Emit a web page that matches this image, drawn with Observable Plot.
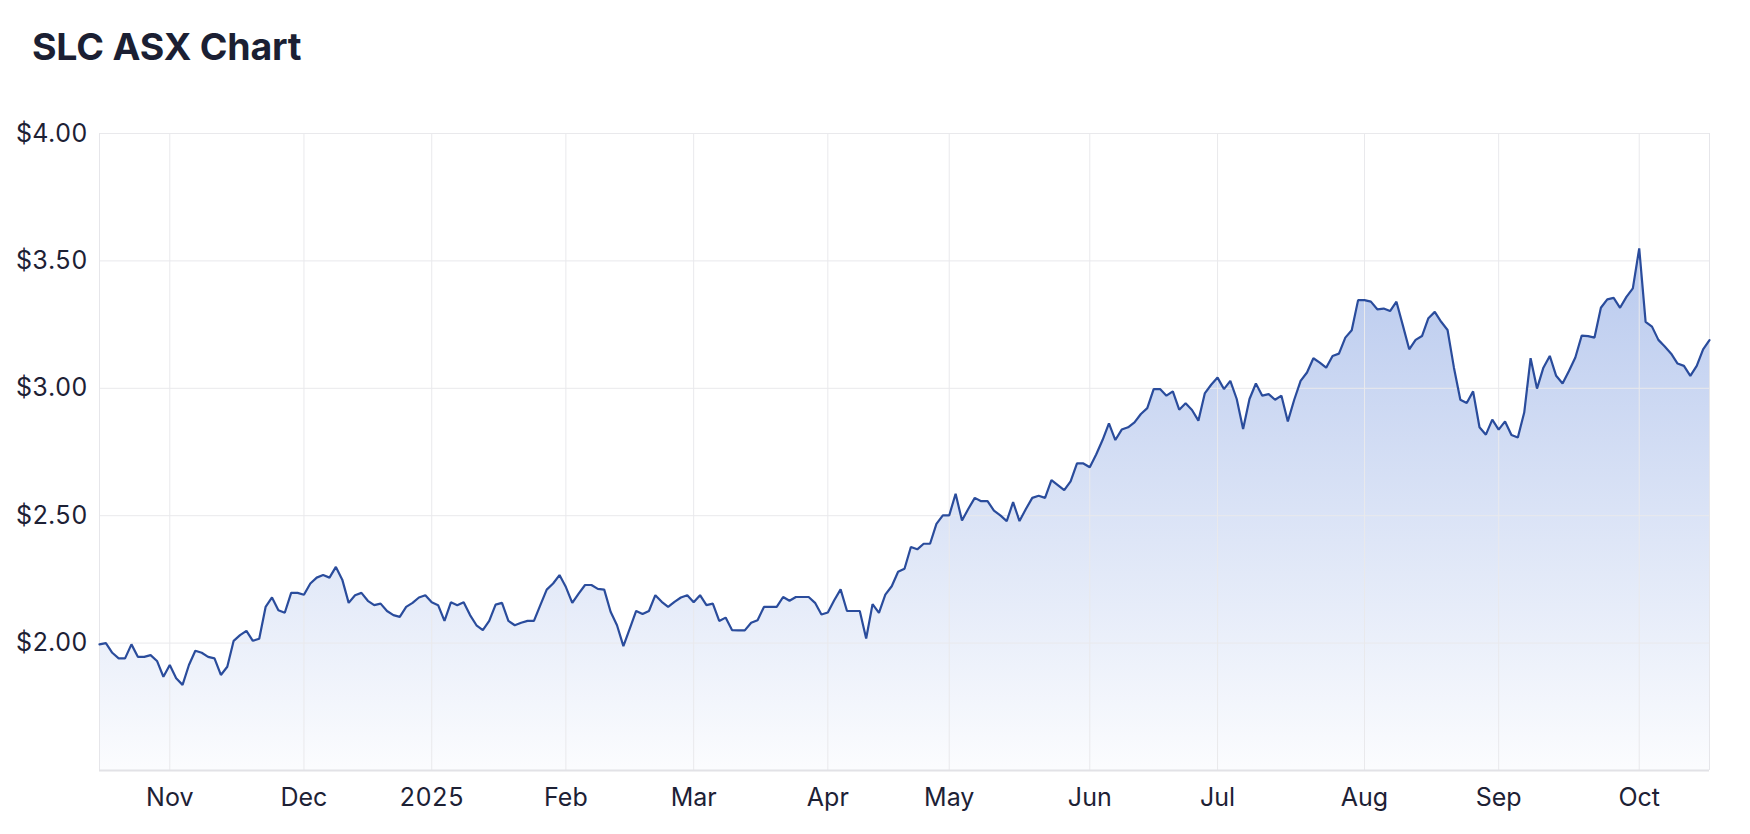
<!DOCTYPE html>
<html>
<head>
<meta charset="utf-8">
<script src="https://cdn.jsdelivr.net/npm/d3@7"></script>
<script src="https://cdn.jsdelivr.net/npm/@observablehq/plot@0.6"></script>
<style>
  html, body { margin: 0; padding: 0; background: #ffffff; }
  #title {
    box-sizing: border-box;
    margin: 0;
    padding: 28px 0 0 32px;
    height: 100px;
    font: 700 37.5px/38px Inter, "Noto Sans", sans-serif;
    color: #1b1f33;
    letter-spacing: -0.2px;
  }
  #chart svg { display: block; }
</style>
</head>
<body>
<div id="title">SLC ASX Chart</div>
<div id="chart"></div>
<script>
// ---- Data: daily closing prices (A$), one array per month (trading days only) ----
const oct2024 = [1.995, 2.00, 1.962, 1.94, 1.94, 1.995, 1.946, 1.946, 1.953, 1.93, 1.868];
const nov2024 = [1.914, 1.862, 1.836, 1.914, 1.97, 1.962, 1.946, 1.94, 1.875, 1.907, 2.009, 2.031, 2.048, 2.009, 2.017, 2.142, 2.179, 2.129, 2.119, 2.197, 2.197];
const dec2024 = [2.19, 2.234, 2.257, 2.267, 2.257, 2.299, 2.249, 2.158, 2.188, 2.197, 2.166, 2.149, 2.155, 2.126, 2.11, 2.103, 2.142, 2.158, 2.179, 2.188];
const jan2025 = [2.16, 2.149, 2.087, 2.16, 2.149, 2.16, 2.11, 2.07, 2.051, 2.087, 2.151, 2.158, 2.087, 2.07, 2.08, 2.087, 2.087, 2.149, 2.21, 2.234, 2.267];
const feb2025 = [2.22, 2.158, 2.194, 2.228, 2.228, 2.213, 2.21, 2.123, 2.07, 1.988, 2.057, 2.126, 2.114, 2.126, 2.188, 2.162, 2.142, 2.162, 2.179, 2.188];
const mar2025 = [2.16, 2.188, 2.149, 2.155, 2.087, 2.1, 2.051, 2.05, 2.05, 2.08, 2.09, 2.142, 2.142, 2.142, 2.181, 2.166, 2.181, 2.181, 2.181, 2.158, 2.112];
const apr2025 = [2.12, 2.168, 2.211, 2.126, 2.126, 2.126, 2.018, 2.153, 2.119, 2.19, 2.223, 2.28, 2.292, 2.377, 2.368, 2.39, 2.39, 2.468, 2.501];
const may2025 = [2.501, 2.586, 2.481, 2.527, 2.57, 2.557, 2.557, 2.52, 2.501, 2.479, 2.553, 2.479, 2.526, 2.57, 2.578, 2.57, 2.64, 2.62, 2.60, 2.635, 2.705, 2.705];
const jun2025 = [2.69, 2.74, 2.797, 2.862, 2.797, 2.838, 2.847, 2.866, 2.899, 2.922, 2.997, 2.997, 2.971, 2.988, 2.916, 2.941, 2.915, 2.873, 2.98, 3.014];
const jul2025 = [3.042, 2.997, 3.029, 2.958, 2.84, 2.958, 3.019, 2.971, 2.977, 2.955, 2.971, 2.87, 2.955, 3.029, 3.062, 3.118, 3.101, 3.081, 3.127, 3.136, 3.199, 3.228, 3.346];
const aug2025 = [3.346, 3.34, 3.31, 3.313, 3.303, 3.34, 3.247, 3.153, 3.19, 3.205, 3.275, 3.30, 3.261, 3.229, 3.081, 2.955, 2.942, 2.988, 2.847, 2.818, 2.877];
const sep2025 = [2.838, 2.87, 2.817, 2.807, 2.905, 3.118, 2.999, 3.081, 3.127, 3.049, 3.019, 3.068, 3.121, 3.207, 3.205, 3.199, 3.316, 3.349, 3.355, 3.316, 3.359, 3.392];
const oct2025 = [3.549, 3.261, 3.242, 3.19, 3.164, 3.136, 3.097, 3.088, 3.049, 3.088, 3.153, 3.189];

// Month series in order, with the axis label used where each month starts
const monthSeries = [oct2024, nov2024, dec2024, jan2025, feb2025, mar2025, apr2025, may2025, jun2025, jul2025, aug2025, sep2025, oct2025];
const monthLabels = ["Oct", "Nov", "Dec", "2025", "Feb", "Mar", "Apr", "May", "Jun", "Jul", "Aug", "Sep", "Oct"];
const firstMonthIsPartial = true;

// Y axis
const yDomain = [1.5, 4.0];
const yTicks = [2.0, 2.5, 3.0, 3.5, 4.0];

// ---- Build table (ordinal trading-day index) ----
const rows = [];
const tickIdx = [];
const tickLabel = new Map();
monthSeries.forEach((arr, m) => {
  const start = rows.length;
  if (!(m === 0 && firstMonthIsPartial)) { tickIdx.push(start); tickLabel.set(start, monthLabels[m]); }
  arr.forEach(p => rows.push({i: rows.length, price: p}));
});
const lastIdx = rows.length - 1;

// ---- Layout ----
const W = 1750, H = 734;
const MT = 33, MB = 64, ML = 99, MR = 41;

const chart = Plot.plot({
  width: W,
  height: H,
  marginTop: MT,
  marginBottom: MB,
  marginLeft: ML,
  marginRight: MR,
  style: {fontFamily: "Inter, 'Noto Sans', sans-serif", fontSize: "25px", color: "#1d2135", background: "#ffffff", overflow: "visible"},
  x: {type: "linear", domain: [0, lastIdx], ticks: tickIdx, tickFormat: i => tickLabel.get(i) ?? "", tickSize: 0, tickPadding: 18, label: null},
  y: {domain: yDomain, ticks: yTicks, tickFormat: d => "$" + d.toFixed(2), tickSize: 0, tickPadding: 12, label: null},
  marks: [
    Plot.areaY(rows, {x: "i", y1: () => yDomain[0], y2: "price", fill: "url(#slcFill)", curve: "linear"}),
    Plot.ruleY(yTicks, {stroke: "#e9e9ec", strokeWidth: 1}),
    Plot.ruleX(tickIdx, {stroke: "#e9e9ec", strokeWidth: 1}),
    Plot.ruleX([0, lastIdx], {stroke: "#e6e6ea", strokeWidth: 1}),
    Plot.ruleY([yDomain[0]], {stroke: "#e2e2e6", strokeWidth: 2}),
    Plot.lineY(rows, {x: "i", y: "price", stroke: "#2a4c9c", strokeWidth: 2.2, curve: "linear", strokeLinejoin: "miter"})
  ]
});

// gradient fill definition (vertical, over the plot area)
const ns = "http://www.w3.org/2000/svg";
const defs = document.createElementNS(ns, "defs");
const grad = document.createElementNS(ns, "linearGradient");
grad.setAttribute("id", "slcFill");
grad.setAttribute("gradientUnits", "userSpaceOnUse");
grad.setAttribute("x1", 0); grad.setAttribute("x2", 0);
grad.setAttribute("y1", MT); grad.setAttribute("y2", H - MB);
[[0, 0.44], [1, 0.02]].forEach(([o, a]) => {
  const s = document.createElementNS(ns, "stop");
  s.setAttribute("offset", o);
  s.setAttribute("stop-color", "#3e6cd0");
  s.setAttribute("stop-opacity", a);
  grad.appendChild(s);
});
defs.appendChild(grad);
chart.insertBefore(defs, chart.firstChild);

document.getElementById("chart").appendChild(chart);
</script>
</body>
</html>
